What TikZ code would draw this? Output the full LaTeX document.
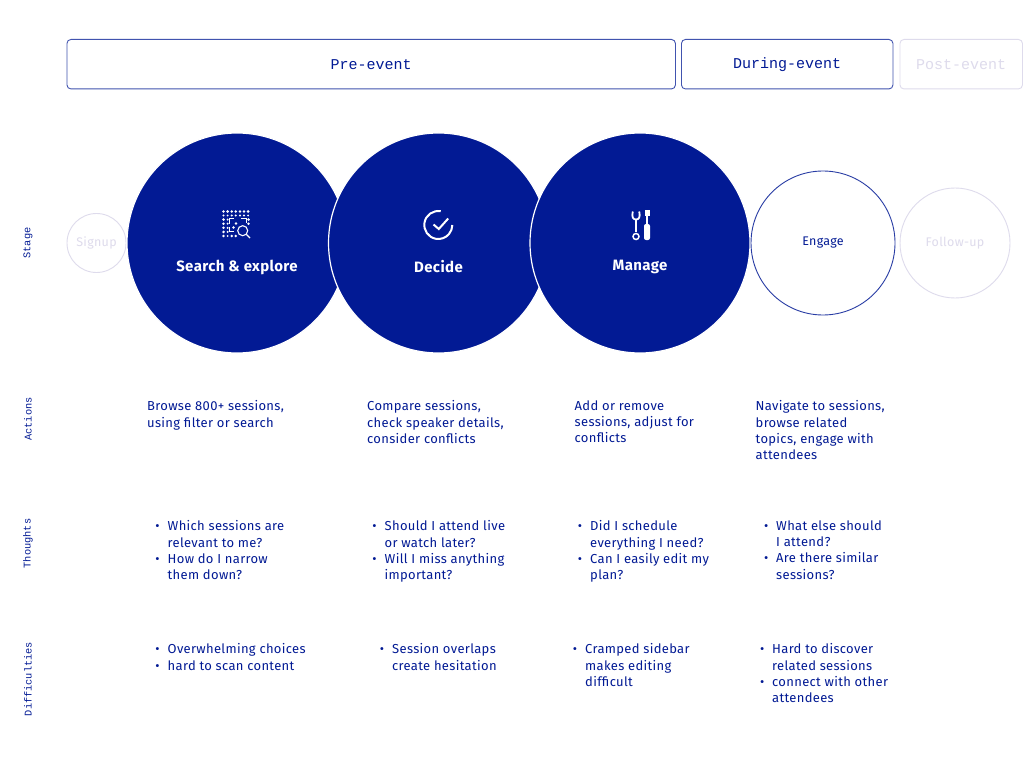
\documentclass[tikz,border=0pt]{standalone}
\usepackage{fontspec}
\setmainfont{Fira Sans}[LetterSpace=2.5]
\setmonofont{Liberation Mono}
\usepackage{xcolor}
\definecolor{navy}{HTML}{021A94}
\definecolor{faded}{HTML}{DEDBEC}
\newcommand{\blt}{\makebox[0pt][r]{\textbullet\hspace{8pt}}}

\tikzset{
    phasebox/.style={draw=navy!75, rounded corners=4pt, line width=0.9pt, inner sep=0pt, text=navy, font=\ttfamily\fontsize{15}{18}\selectfont},
    phaseoff/.style={phasebox, draw=faded, text=faded},
    bigstage/.style={draw=white, circle, fill=navy, line width=1.2pt, inner sep=0pt, minimum size=220pt},
    smallstage/.style={draw=navy!85, circle, line width=0.9pt, inner sep=0pt, text=navy, font=\fontsize{12.5}{15}\selectfont},
    offstage/.style={smallstage, draw=faded, text=faded},
    stagetitle/.style={text=white, inner sep=0pt, font=\fontsize{15}{18}\selectfont\bfseries},
    rowlabel/.style={rotate=90, text=navy, inner sep=0pt, font=\ttfamily\fontsize{10.3}{12}\selectfont},
    celltext/.style={anchor=north west, align=left, inner sep=0pt, text=navy, font=\fontsize{13}{16.2}\selectfont},
    iconline/.style={draw=white, line width=1.6pt},
}

\begin{document}
\begin{tikzpicture}[x=1pt, y=-1pt]
    \useasboundingbox[fill=white] (0,0) rectangle (1024,759);

    \node[phasebox, minimum width=608.5pt, minimum height=49.5pt] (pre) at (371.2,64.2) {Pre-event};
    \node[phasebox, minimum width=211.5pt, minimum height=49.5pt] (during) at (787.2,64.2) {During-event};
    \node[phaseoff, minimum width=122.5pt, minimum height=49.5pt] (post) at (961.2,64.2) {Post-event};

    \node[offstage, minimum size=59pt] (signup) at (96.5,243) {Signup};
    \node[bigstage] (search) at (237,243) {};
    \node[bigstage] (decide) at (438.5,243) {};
    \node[bigstage] (manage) at (640,243) {};
    \node[smallstage, minimum size=144pt] (engage) at (823,243) {Engage};
    \node[offstage, minimum size=110pt] (followup) at (955,243) {Follow-up};

    \node[stagetitle] (searchtitle) at (237,267) {Search \& explore};
    \node[stagetitle] (decidetitle) at (438.5,267) {Decide};
    \node[stagetitle] (managetitle) at (640,267) {Manage};

    \foreach \x in {223.5,227.6,...,248.5} \fill[white] (\x,211.5) circle (1.4pt);
    \foreach \x in {223.5,227.6,...,248.5} \fill[white] (\x,215.5) circle (1.1pt);
    \foreach \y in {219.6,223.7,...,236} \fill[white] (223.5,\y) circle (1.4pt);
    \foreach \y in {219.6,223.7,...,236} \fill[white] (227.6,\y) circle (1.1pt);
    \foreach \x in {231.7,235.8} \fill[white] (\x,236) circle (1.4pt);
    \foreach \y in {219.6,223.7} \fill[white] (248.5,\y) circle (1.4pt);
    \draw[white, line width=1pt] (229,224) -- (229,219) -- (234,219);
    \draw[white, line width=1pt] (241,219) -- (246,219) -- (246,223);
    \draw[white, line width=1pt] (229,227) -- (229,232) -- (234,232);
    \fill[white] (236,223.5) circle (1.4pt);
    \fill[white] (233.5,227.5) circle (1.4pt);
    \draw[white, line width=1.1pt] (242.7,230.7) circle (5pt);
    \draw[white, line width=1.2pt] (246.4,234.4) -- (250,238);

    \draw[iconline, line width=2pt] (438.3,225) ++(80:14pt) arc[start angle=80, end angle=360, radius=14pt];
    \draw[iconline, line width=2pt] (433.5,224.5) -- (438.8,229) -- (448.2,218.5);

    \draw[iconline, line width=2.4pt] (636,219) -- (636,232);
    \draw[iconline, line width=1.8pt] (632.8,211.5) .. controls (631.5,217) and (633,219.5) .. (636,219.5) .. controls (639,219.5) and (640.5,217) .. (639.2,211.5);
    \draw[iconline, line width=1.5pt] (636,236.5) circle (3pt);
    \fill[white] (644.5,210) rectangle (649.5,216.5);
    \draw[iconline, line width=1.6pt] (647,216) -- (647,225);
    \fill[white, rounded corners=2pt] (644,224) rectangle (650,240);

    \node[rowlabel] (stagelabel) at (28,243) {Stage};
    \node[rowlabel] (actionslabel) at (28,419) {Actions};
    \node[rowlabel] (thoughtslabel) at (28,543.5) {Thoughts};
    \node[rowlabel] (difficultieslabel) at (28,679) {Difficulties};

    \node[celltext] (action1) at (147,400.5) {Browse 800+ sessions,\\using filter or search};
    \node[celltext] (action2) at (367,400.5) {Compare sessions,\\check speaker details,\\consider conflicts};
    \node[celltext] (action3) at (574.5,400.5) {Add or remove\\sessions, adjust for\\conflicts};
    \node[celltext] (action4) at (755.5,400.5) {Navigate to sessions,\\browse related\\topics, engage with\\attendees};

    \node[celltext] (thought1) at (167.5,520.5) {\blt Which sessions are\\relevant to me?\\\blt How do I narrow\\them down?};
    \node[celltext] (thought2) at (384.5,520.5) {\blt Should I attend live\\or watch later?\\\blt Will I miss anything\\important?};
    \node[celltext] (thought3) at (590,520.5) {\blt Did I schedule\\everything I need?\\\blt Can I easily edit my\\plan?};
    \node[celltext] (thought4) at (776,520.5) {\blt What else should\\I attend?\\\blt Are there similar\\sessions?};

    \node[celltext] (difficulty1) at (167.5,643.5) {\blt Overwhelming choices\\\blt hard to scan content};
    \node[celltext] (difficulty2) at (392,643.5) {\blt Session overlaps\\create hesitation};
    \node[celltext] (difficulty3) at (585,643.5) {\blt Cramped sidebar\\makes editing\\difficult};
    \node[celltext] (difficulty4) at (772,643.5) {\blt Hard to discover\\related sessions\\\blt connect with other\\attendees};
\end{tikzpicture}
\end{document}
